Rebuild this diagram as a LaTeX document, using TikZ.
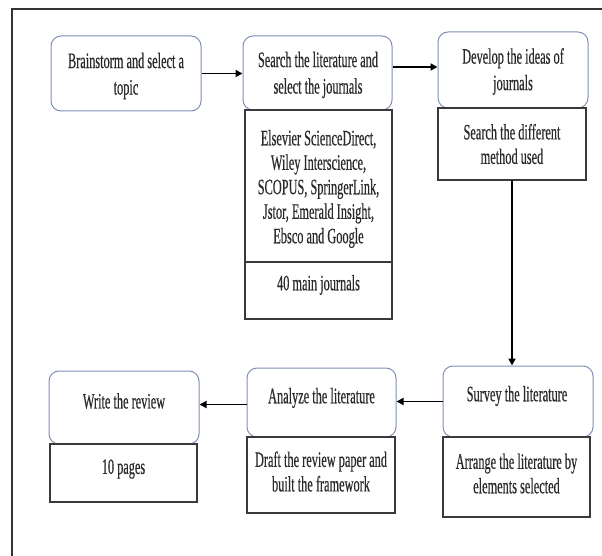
\documentclass[tikz,border=0pt]{standalone}
\usepackage{fontspec}
\newfontfamily\tfont[FakeStretch=0.56,FakeBold=0.4]{Liberation Serif}
\usetikzlibrary{arrows.meta}
\definecolor{hdrcol}{HTML}{8090B5}
\definecolor{subcol}{HTML}{3A3A3A}
\definecolor{txtcol}{HTML}{2A2A2A}
\definecolor{framecol}{HTML}{333333}
\tikzset{
  hdr/.style={draw=hdrcol, line width=1pt, rounded corners=10pt, fill=white, inner sep=0pt},
  subbox/.style={draw=subcol, line width=1.6pt, fill=none, inner sep=0pt},
  txt/.style={text=txtcol, align=center, inner sep=0pt, font={\tfont\fontsize{22}{26.5}\selectfont}},
  stxt/.style={txt, font={\tfont\fontsize{22}{24.5}\selectfont}},
  arr/.style={draw=black, line width=1.8pt, -{Triangle[length=7pt,width=7pt]}},
  boxsz/.style 2 args={minimum width=#1pt, minimum height=#2pt}
}
\begin{document}
\begin{tikzpicture}[x=1pt,y=-1pt]
\useasboundingbox (0,0) rectangle (602,556);
% frame
\draw[framecol, line width=1.6pt] (12,557) -- (12,9) -- (603,9);
% top row headers
\node[hdr, boxsz={150}{75}] (b1) at (126,73.5) {};
\node[hdr, boxsz={149}{74}] (b2) at (317.5,73) {};
\node[hdr, boxsz={150}{76}] (b3) at (513,70) {};
% top row sub boxes
\node[subbox, boxsz={147}{152}] (r2a) at (318.5,186) {};
\node[subbox, boxsz={147}{57}] (r2b) at (318.5,290.5) {};
\node[subbox, boxsz={148}{72}] (r3) at (512,144) {};
% bottom row headers
\node[hdr, boxsz={150}{71}] (b4) at (518,401.5) {};
\node[hdr, boxsz={149}{69}] (b5) at (321.5,402.5) {};
\node[hdr, boxsz={150}{73}] (b6) at (124,407.5) {};
% bottom row sub boxes
\node[subbox, boxsz={147}{80}] (r4) at (516.5,477) {};
\node[subbox, boxsz={148}{76}] (r5) at (321,475) {};
\node[subbox, boxsz={147}{58}] (r6) at (123.5,473) {};
% texts
\node[txt] (t1) at (126,76) {Brainstorm and select a\\topic};
\node[txt] (t2) at (318,75) {Search the literature and\\select the journals};
\node[txt] (t3) at (513,71.5) {Develop the ideas of\\journals};
\node[stxt] (t3s) at (512,144) {Search the different\\method used};
\node[stxt] (t2s) at (318.5,189) {Elsevier ScienceDirect,\\Wiley Interscience,\\SCOPUS, SpringerLink,\\Jstor, Emerald Insight,\\Ebsco and Google};
\node[stxt] (t2b) at (318.5,285) {40 main journals};
\node[txt] (t4) at (517,396) {Survey the literature};
\node[stxt] (t4s) at (516.5,473.5) {Arrange the literature by\\elements selected};
\node[txt] (t5) at (321.5,398) {Analyze the literature};
\node[stxt] (t5s) at (321,471.5) {Draft the review paper and\\built the framework};
\node[txt] (t6) at (124,401) {Write the review};
\node[stxt] (t6s) at (123.5,469) {10 pages};
% connectors
\draw[arr] (b1.east) -- (b1.east -| b2.west);
\draw[arr] ([yshift=6pt]b2.east) -- ([yshift=6pt]b2.east -| b3.west);
\draw[arr] (r3.south) -- (r3.south |- b4.north);
\draw[arr] (b4.west) -- (b4.west -| b5.east);
\draw[arr] ([yshift=-2pt]b5.west) -- ([yshift=-2pt]b5.west -| b6.east);
\end{tikzpicture}
\end{document}
